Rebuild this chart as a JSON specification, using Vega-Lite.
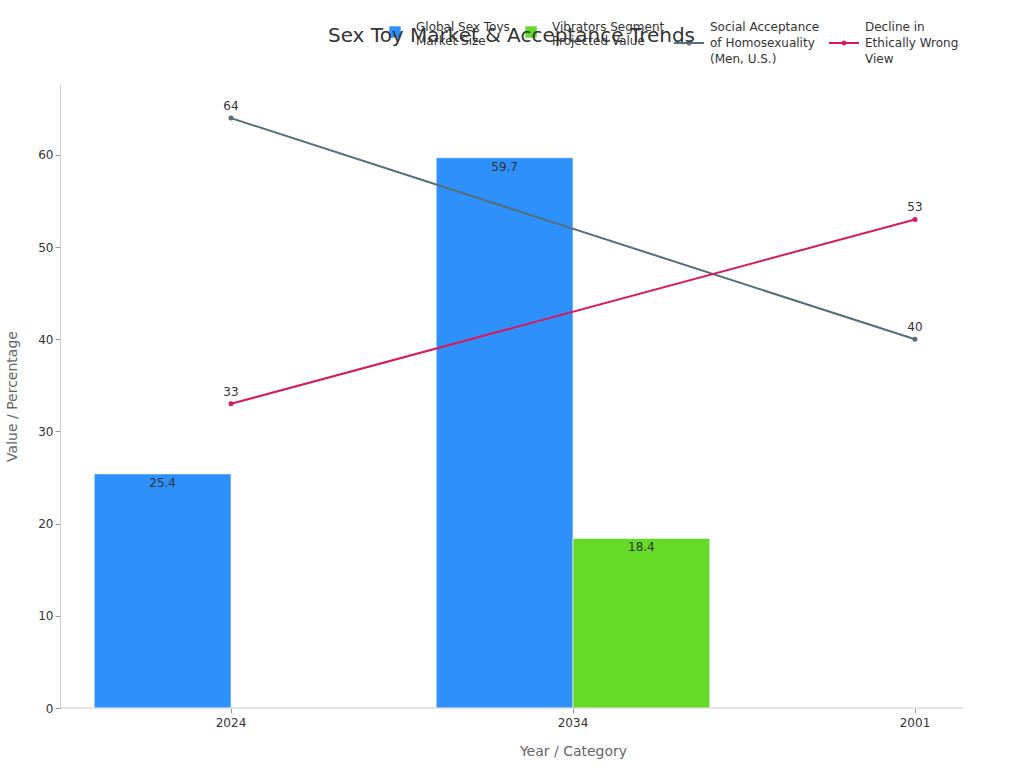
{
  "$schema": "https://vega.github.io/schema/vega-lite/v6.json",
  "width": 903,
  "height": 624,
  "autosize": {"type": "none"},
  "padding": {"left": 60, "top": 84, "right": 61, "bottom": 60},
  "background": "white",
  "config": {
    "font": "DejaVu Sans",
    "view": {"stroke": null},
    "axis": {
      "labelFontSize": 12,
      "labelColor": "#333333",
      "titleFontSize": 14,
      "titleFontWeight": "normal",
      "titleColor": "#666666",
      "domainColor": "#cccccc",
      "tickColor": "#999999",
      "tickSize": 5,
      "grid": false
    }
  },
  "title": {
    "text": "Sex Toy Market & Acceptance Trends",
    "fontSize": 20,
    "fontWeight": "normal",
    "color": "#333333",
    "anchor": "middle",
    "frame": "group",
    "offset": 0,
    "dy": 34
  },
  "data": {
    "values": [
      {"cat": "2024", "series": "Global Sex Toys Market Size", "value": 25.4, "type": "bar"},
      {"cat": "2034", "series": "Global Sex Toys Market Size", "value": 59.7, "type": "bar"},
      {"cat": "2034", "series": "Vibrators Segment Projected Value", "value": 18.4, "type": "bar"},
      {"cat": "2024", "series": "Social Acceptance of Homosexuality (Men, U.S.)", "value": 64, "type": "line"},
      {"cat": "2001", "series": "Social Acceptance of Homosexuality (Men, U.S.)", "value": 40, "type": "line"},
      {"cat": "2024", "series": "Decline in Ethically Wrong View", "value": 33, "type": "line"},
      {"cat": "2001", "series": "Decline in Ethically Wrong View", "value": 53, "type": "line"}
    ]
  },
  "layer": [
    {
      "transform": [{"filter": "datum.type == 'bar'"}],
      "mark": {"type": "bar", "stroke": "white", "strokeWidth": 1, "strokeOpacity": 0.6},
      "encoding": {
        "x": {
          "field": "cat", "type": "nominal", "sort": ["2024", "2034", "2001"],
          "scale": {"range": [0, 1026], "paddingInner": 0, "paddingOuter": 0},
          "axis": {"title": "Year / Category", "labelAngle": 0, "domain": false, "titlePadding": 16, "labelPadding": 4}
        },
        "xOffset": {
          "field": "series", "type": "nominal",
          "sort": ["Global Sex Toys Market Size", "Vibrators Segment Projected Value"],
          "scale": {"paddingInner": 0, "paddingOuter": 0.25}
        },
        "y": {
          "field": "value", "type": "quantitative",
          "scale": {"domain": [0, 67.7], "nice": false},
          "axis": {"title": "Value / Percentage", "values": [0, 10, 20, 30, 40, 50, 60], "titlePadding": 18}
        },
        "fill": {
          "field": "series", "type": "nominal",
          "sort": ["Global Sex Toys Market Size", "Vibrators Segment Projected Value"],
          "scale": {"domain": ["Global Sex Toys Market Size", "Vibrators Segment Projected Value"], "range": ["#2E90FA", "#66DB27"]},
          "legend": {
            "orient": "none", "legendX": 320, "legendY": -72, "direction": "horizontal", "title": null,
            "symbolType": "M-0.38,-0.047L0.38,-0.047L0.38,0.713L-0.38,0.713Z", "symbolSize": 900, "symbolStrokeWidth": 0,
            "labelFontSize": 12, "labelColor": "#333333", "labelOffset": 6, "columnPadding": 6, "labelLimit": 300,
            "labelExpr": "datum.label == 'Global Sex Toys Market Size' ? ['Global Sex Toys', 'Market Size'] : ['Vibrators Segment', 'Projected Value']"
          }
        }
      }
    },
    {
      "transform": [{"filter": "datum.type == 'bar'"}],
      "mark": {"type": "text", "baseline": "top", "dy": 4, "fontSize": 12, "color": "#333333"},
      "encoding": {
        "x": {"field": "cat", "type": "nominal", "sort": ["2024", "2034", "2001"]},
        "xOffset": {"field": "series", "type": "nominal", "sort": ["Global Sex Toys Market Size", "Vibrators Segment Projected Value"]},
        "y": {"field": "value", "type": "quantitative"},
        "text": {"field": "value", "type": "quantitative", "format": ".1f"}
      }
    },
    {
      "transform": [{"filter": "datum.type == 'line'"}],
      "mark": {"type": "line", "strokeWidth": 2},
      "encoding": {
        "x": {"field": "cat", "type": "nominal", "sort": ["2024", "2034", "2001"]},
        "y": {"field": "value", "type": "quantitative"},
        "stroke": {
          "field": "series", "type": "nominal",
          "scale": {"domain": ["Social Acceptance of Homosexuality (Men, U.S.)", "Decline in Ethically Wrong View"], "range": ["#546E7A", "#D81B60"]},
          "legend": {
            "orient": "none", "legendX": 613, "legendY": -57, "direction": "horizontal", "title": null,
            "symbolType": "M-1,0L1,0M-0.1,0a0.1,0.1 0 1,0 0.2,0a0.1,0.1 0 1,0 -0.2,0",
            "symbolSize": 900, "symbolStrokeWidth": 2,
            "labelFontSize": 12, "labelColor": "#333333", "labelOffset": 5, "columnPadding": 5, "labelLimit": 300,
            "labelExpr": "datum.label == 'Decline in Ethically Wrong View' ? ['Decline in', 'Ethically Wrong', 'View'] : ['Social Acceptance', 'of Homosexuality', '(Men, U.S.)']",
            "encode": {"labels": {"update": {"lineHeight": {"value": 16}, "dy": {"value": -16}}}}
          }
        }
      }
    },
    {
      "transform": [{"filter": "datum.type == 'line'"}],
      "mark": {"type": "circle", "size": 25, "opacity": 1},
      "encoding": {
        "x": {"field": "cat", "type": "nominal", "sort": ["2024", "2034", "2001"]},
        "y": {"field": "value", "type": "quantitative"},
        "color": {
          "field": "series", "type": "nominal",
          "scale": {"domain": ["Social Acceptance of Homosexuality (Men, U.S.)", "Decline in Ethically Wrong View"], "range": ["#546E7A", "#D81B60"]},
          "legend": null
        }
      }
    },
    {
      "transform": [{"filter": "datum.type == 'line'"}],
      "mark": {"type": "text", "baseline": "bottom", "dy": -5, "fontSize": 12, "color": "#333333"},
      "encoding": {
        "x": {"field": "cat", "type": "nominal", "sort": ["2024", "2034", "2001"]},
        "y": {"field": "value", "type": "quantitative"},
        "text": {"field": "value", "type": "quantitative"}
      }
    },
    {
      "data": {"values": [{}]},
      "mark": {"type": "rule", "color": "#cccccc", "strokeWidth": 1},
      "encoding": {"y": {"datum": 0}}
    }
  ]
}
